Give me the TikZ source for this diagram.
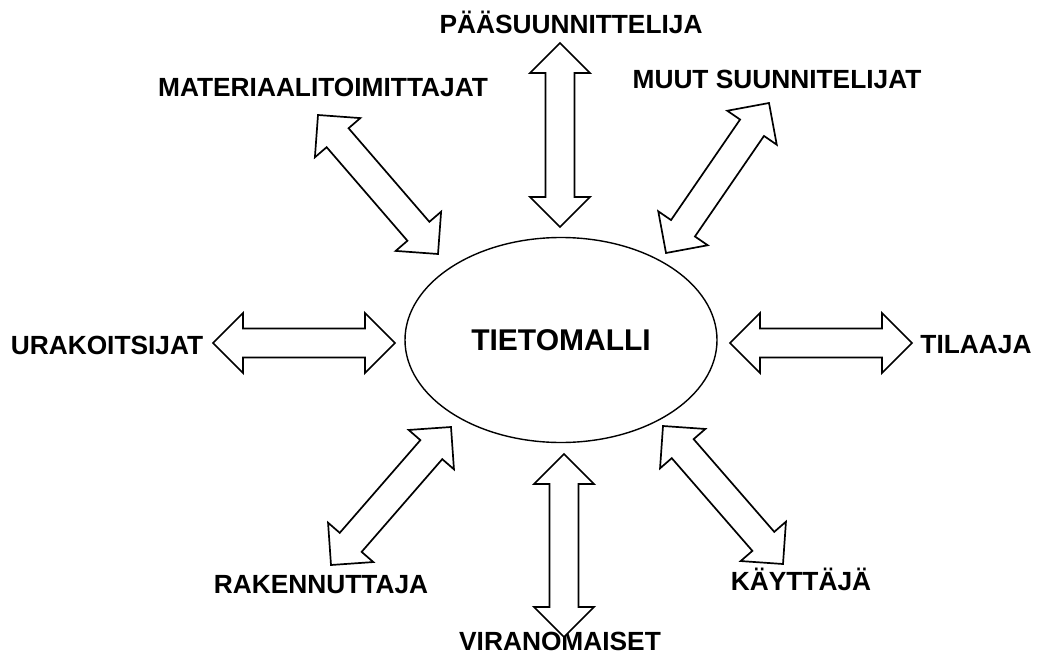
\documentclass[tikz,border=0pt]{standalone}
\usepackage{fontspec}
\setmainfont{Liberation Sans}
\usetikzlibrary{calc,shapes.geometric}
\newcommand\arrHL{30pt}
\newcommand\arrHW{30pt}
\newcommand\arrSW{14.5pt}
\newcommand\dblarr[2]{%
  \draw[dblarrow] (#1)
    -- ($(#1)!\arrHL!(#2)!\arrHW!90:(#2)$)
    -- ($(#1)!\arrHL!(#2)!\arrSW!90:(#2)$)
    -- ($(#2)!\arrHL!(#1)!\arrSW!-90:(#1)$)
    -- ($(#2)!\arrHL!(#1)!\arrHW!-90:(#1)$)
    -- (#2)
    -- ($(#2)!\arrHL!(#1)!\arrHW!90:(#1)$)
    -- ($(#2)!\arrHL!(#1)!\arrSW!90:(#1)$)
    -- ($(#1)!\arrHL!(#2)!\arrSW!-90:(#2)$)
    -- ($(#1)!\arrHL!(#2)!\arrHW!-90:(#2)$)
    -- cycle;}
\tikzset{
  dblarrow/.style={draw=black, fill=white, line width=1.7pt, line join=miter},
  lbl/.style={font=\bfseries\fontsize{26.3}{30}\selectfont, inner sep=0pt, anchor=base, text=black},
  model/.style={draw=black, line width=1.4pt, ellipse, inner sep=0pt,
    minimum width=312pt, minimum height=205pt,
    font=\bfseries\fontsize{30}{34}\selectfont}
}
\begin{document}
\begin{tikzpicture}[x=1pt,y=-1pt]
\useasboundingbox (0,0) rectangle (1043,661);
\node[model] (tm) at (561,340) {TIETOMALLI};
\node[lbl] (paa) at (571,34) {PÄÄSUUNNITTELIJA};
\node[lbl] (mat) at (323,96) {MATERIAALITOIMITTAJAT};
\node[lbl] (muu) at (777,88) {MUUT SUUNNITELIJAT};
\node[lbl] (ura) at (107,354) {URAKOITSIJAT};
\node[lbl] (til) at (976,353) {TILAAJA};
\node[lbl] (rak) at (321,593) {RAKENNUTTAJA};
\node[lbl] (vir) at (560,650) {VIRANOMAISET};
\node[lbl] (kay) at (801,590) {KÄYTTÄJÄ};
% arrow tips
\coordinate (a1) at (560,43);  \coordinate (b1) at (560,227);
\coordinate (a2) at (564,454); \coordinate (b2) at (564,637);
\coordinate (a3) at (213,343); \coordinate (b3) at (395,343);
\coordinate (a4) at (730,343); \coordinate (b4) at (912,343);
\coordinate (a5) at (318,115); \coordinate (b5) at (438,254);
\coordinate (a6) at (769,103); \coordinate (b6) at (666,253);
\coordinate (a7) at (451,427); \coordinate (b7) at (331,565);
\coordinate (a8) at (663,426); \coordinate (b8) at (783,564);
\dblarr{a1}{b1}
\dblarr{a2}{b2}
\dblarr{a3}{b3}
\dblarr{a4}{b4}
\dblarr{a5}{b5}
\dblarr{a6}{b6}
\dblarr{a7}{b7}
\dblarr{a8}{b8}
\end{tikzpicture}
\end{document}
